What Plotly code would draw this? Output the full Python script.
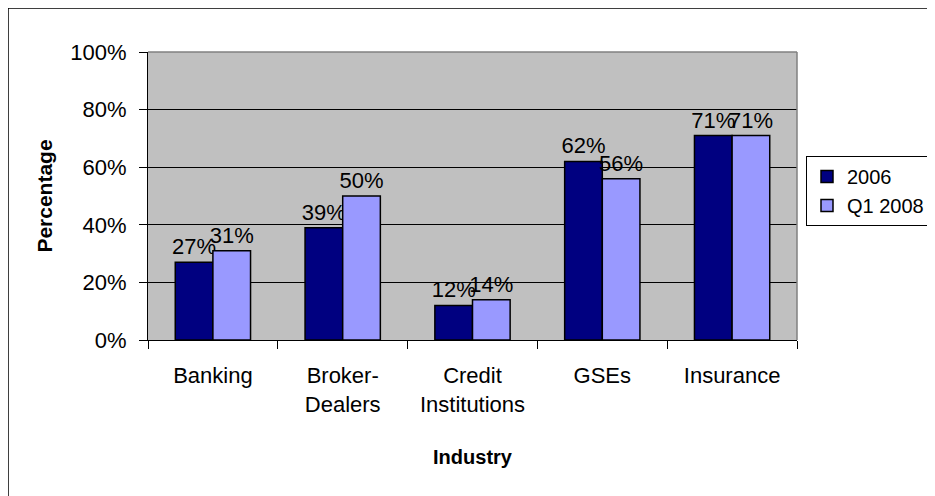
import plotly.graph_objects as go

# data
industries = ['Banking', 'Broker-<br>Dealers', 'Credit<br>Institutions', 'GSEs', 'Insurance']
pct_2006 = [0.27, 0.39, 0.12, 0.62, 0.71]
pct_q1_2008 = [0.31, 0.50, 0.14, 0.56, 0.71]

# the html body has an 8px margin, so the figure is laid out in page pixels minus 8
OFF = 8
W, H = 935 - OFF, 496 - OFF
plot_left, plot_right, plot_top, plot_bottom = 148, 797, 52, 340  # page pixels
ml, mt = plot_left - OFF, plot_top - OFF
mr, mb = W - (plot_right - OFF), H - (plot_bottom - OFF)
pw, ph = plot_right - plot_left, plot_bottom - plot_top

def px_x(x):
    return (x - plot_left) / pw

def px_y(y):
    return (plot_bottom - y) / ph

font = 'Liberation Sans, Arial, sans-serif'

fig = go.Figure()
for name, vals, col in [('2006', pct_2006, '#000080'), ('Q1 2008', pct_q1_2008, '#9999FF')]:
    fig.add_trace(go.Bar(
        x=industries, y=vals, name=name, legendgroup=name,
        marker=dict(color=col, line=dict(color='black', width=1.5)),
        texttemplate='%{y:.0%}', textposition='outside',
        textfont=dict(size=22, color='black', family=font),
        constraintext='none', cliponaxis=False,
    ))

fig.update_layout(
    width=W, height=H,
    margin=dict(l=ml, r=mr, t=mt, b=mb, autoexpand=False),
    paper_bgcolor='white',
    plot_bgcolor='#C0C0C0',
    barmode='group', bargap=0.42, bargroupgap=0,
    font=dict(family=font, size=22, color='black'),
    xaxis=dict(
        type='category', showline=True, linecolor='black', linewidth=1,
        ticks='outside', tickson='boundaries', ticklen=8, tickcolor='black',
        ticklabelstandoff=16, tickangle=0, automargin=False,
        showgrid=False,
        title=dict(text='<b>Industry</b>', font=dict(size=20), standoff=33),
    ),
    yaxis=dict(
        range=[0, 1], dtick=0.2, tickformat='.0%',
        showline=True, linecolor='black', linewidth=1,
        ticks='outside', ticklen=8, tickcolor='black',
        ticklabelstandoff=8, automargin=False,
        showgrid=True, gridcolor='black', gridwidth=1,
        zeroline=False,
        title=dict(text='<b>Percentage</b>', font=dict(size=21), standoff=11),
    ),
    legend=dict(
        x=px_x(806), y=px_y(156), xanchor='left', yanchor='top',
        bordercolor='black', borderwidth=1, bgcolor='white',
        font=dict(size=20), traceorder='normal', tracegroupgap=5,
    ),
    shapes=[
        # outer chart border (runs off the right and bottom of the picture)
        dict(type='rect', xref='paper', yref='paper',
             x0=px_x(8), x1=px_x(945), y0=px_y(505), y1=px_y(8),
             line=dict(color='black', width=1.5)),
        # gray top and right edge of the plot area
        dict(type='line', xref='paper', yref='paper', x0=0, x1=1, y0=1, y1=1,
             line=dict(color='#808080', width=1.5)),
        dict(type='line', xref='paper', yref='paper', x0=1, x1=1, y0=0, y1=1,
             line=dict(color='#808080', width=1.5)),
    ],
)

fig.write_html('out.html')
